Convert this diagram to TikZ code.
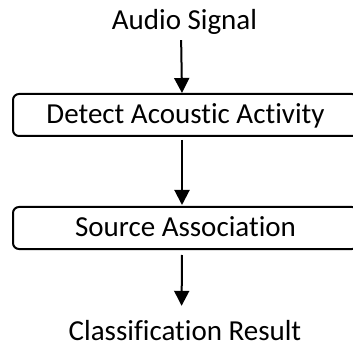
\documentclass[tikz,border=0pt]{standalone}
\usepackage{fontspec}
\setmainfont{Carlito}[Ligatures=NoCommon]
\usetikzlibrary{arrows.meta}
\begin{document}
\begin{tikzpicture}[x=1pt,y=-1pt,
  every node/.style={font=\fontsize{29}{33}\selectfont, inner sep=0pt, text height=19pt, text depth=2pt},
  stagebox/.style={draw, line width=2pt, rounded corners=6pt, minimum width=345pt, minimum height=42pt},
  arr/.style={line width=2pt, -{Triangle[width=15pt,length=15pt]}}]
\useasboundingbox (0,0) rectangle (353,347);
\node (audio) at (184.5,21.5) {Audio Signal};
\node[stagebox] (detect) at (185.5,115) {Detect Acoustic Activity};
\node[stagebox] (source) at (185.5,228) {Source Association};
\node (result) at (185,331.5) {Classification Result};
\draw[arr, shorten <=8pt] ([xshift=-3.5pt]audio.south) -- ([xshift=-3.5pt]detect.north);
\draw[arr, shorten <=3pt, shorten >=1pt] ([xshift=-3.5pt]detect.south) -- ([xshift=-3.5pt]source.north);
\draw[arr, shorten <=5pt, shorten >=15pt] ([xshift=-3.5pt]source.south) -- ([xshift=-3.5pt]result.north);
\end{tikzpicture}
\end{document}
